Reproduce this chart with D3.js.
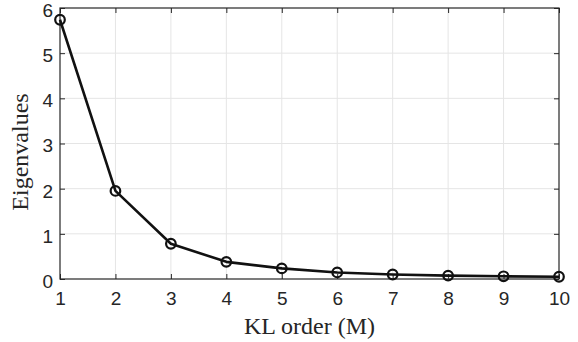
<!DOCTYPE html>
<html>
<head>
<meta charset="utf-8">
<script src="https://cdn.jsdelivr.net/npm/d3@7"></script>
<style>
  body { margin: 0; background: #fff; }
  svg { display: block; }
</style>
</head>
<body>
<div id="chart"></div>
<script>
// KL order vs eigenvalues
const orders = [1, 2, 3, 4, 5, 6, 7, 8, 9, 10];
const eigenvalues = [5.74, 1.95, 0.78, 0.38, 0.235, 0.145, 0.10, 0.075, 0.06, 0.05];
const xTicks = [1, 2, 3, 4, 5, 6, 7, 8, 9, 10];
const yTicks = [0, 1, 2, 3, 4, 5, 6];

const W = 578, H = 342;
const margin = { top: 8, right: 19, bottom: 63, left: 60 };
const width = W - margin.left - margin.right;
const height = H - margin.top - margin.bottom;
const axisColor = '#262626';

const svg = d3.select('#chart').append('svg')
  .attr('width', W)
  .attr('height', H);

const g = svg.append('g')
  .attr('transform', `translate(${margin.left},${margin.top})`);

const x = d3.scaleLinear().domain([1, 10]).range([0, width]);
const y = d3.scaleLinear().domain([0, 6]).range([height, 0]);

// grid
g.append('g').selectAll('line.vg')
  .data(xTicks.slice(1, -1))
  .enter().append('line')
  .attr('x1', d => x(d)).attr('x2', d => x(d))
  .attr('y1', 0).attr('y2', height)
  .attr('stroke', '#e5e5e5').attr('stroke-width', 1);

g.append('g').selectAll('line.hg')
  .data(yTicks.slice(1, -1))
  .enter().append('line')
  .attr('y1', d => y(d)).attr('y2', d => y(d))
  .attr('x1', 0).attr('x2', width)
  .attr('stroke', '#e5e5e5').attr('stroke-width', 1);

// axes (ticks inward, box on)
const styleAxis = sel => {
  sel.select('.domain').remove();
  sel.selectAll('line').attr('stroke', axisColor);
  sel.selectAll('text')
    .attr('fill', axisColor)
    .style('font-family', '"Liberation Sans", Arial, sans-serif')
    .style('font-size', '19px');
};

g.append('g')
  .attr('transform', `translate(0,${height})`)
  .call(d3.axisBottom(x).tickValues(xTicks).tickSize(-5).tickPadding(13).tickFormat(d3.format('d')))
  .call(styleAxis);

g.append('g')
  .call(d3.axisTop(x).tickValues(xTicks).tickSize(-5).tickFormat(''))
  .call(styleAxis);

g.append('g')
  .call(d3.axisLeft(y).tickValues(yTicks).tickSize(-5).tickPadding(7).tickFormat(d3.format('d')))
  .call(styleAxis)
  .selectAll('text').attr('dy', '0.44em');

g.append('g')
  .attr('transform', `translate(${width},0)`)
  .call(d3.axisRight(y).tickValues(yTicks).tickSize(-5).tickFormat(''))
  .call(styleAxis);

g.append('rect')
  .attr('x', 0).attr('y', 0)
  .attr('width', width).attr('height', height)
  .attr('fill', 'none')
  .attr('stroke', axisColor)
  .attr('stroke-width', 1.2);

// data
const pts = orders.map((o, i) => [o, eigenvalues[i]]);

g.append('path')
  .datum(pts)
  .attr('fill', 'none')
  .attr('stroke', '#111')
  .attr('stroke-width', 2.6)
  .attr('stroke-linejoin', 'round')
  .attr('d', d3.line().x(d => x(d[0])).y(d => y(d[1])));

g.selectAll('circle.pt')
  .data(pts)
  .enter().append('circle')
  .attr('class', 'pt')
  .attr('cx', d => x(d[0]))
  .attr('cy', d => y(d[1]))
  .attr('r', 4.8)
  .attr('fill', 'none')
  .attr('stroke', '#111')
  .attr('stroke-width', 2.2);

// labels
svg.append('text')
  .attr('x', margin.left + width / 2)
  .attr('y', 334)
  .attr('text-anchor', 'middle')
  .attr('fill', axisColor)
  .style('font-family', '"Liberation Serif", "Times New Roman", serif')
  .style('font-size', '24px')
  .text('KL order (M)');

svg.append('text')
  .attr('transform', `translate(28,152) rotate(-90)`)
  .attr('text-anchor', 'middle')
  .attr('fill', axisColor)
  .style('font-family', '"Liberation Serif", "Times New Roman", serif')
  .style('font-size', '24px')
  .text('Eigenvalues');
</script>
</body>
</html>
